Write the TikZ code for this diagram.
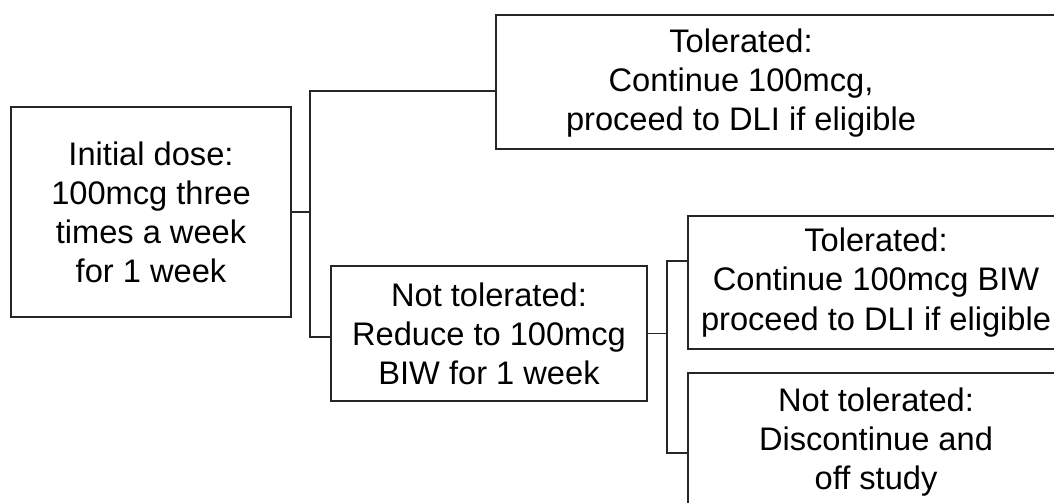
\documentclass[tikz,border=0pt]{standalone}
\usepackage{fontspec}
\setmainfont{Liberation Sans}

\tikzset{
    box/.style={draw=black!85, line width=1.2pt, fill=white, align=center, inner sep=0pt},
    boxtext/.style={align=center, inner sep=0pt, font=\fontsize{23.2}{27.8}\selectfont},
    link/.style={draw=black!85, line width=1.2pt}
}

\begin{document}
\begin{tikzpicture}[x=0.025cm, y=-0.025cm]
        %frame
            \useasboundingbox (0,0) rectangle (1054,502);
            \clip (0,0) rectangle (1054,502);
        %boxes
            \node[box, boxtext, minimum width=7cm, minimum height=5.25cm] (init) at (151,212)
                {Initial dose:\\100mcg three\\times a week\\for 1 week};
            \node[box, minimum width=14.6cm, minimum height=3.35cm] (tol) at (788,82) {};
                \node[boxtext] (toltext) at (741,83) {Tolerated:\\Continue 100mcg,\\proceed to DLI if eligible};
            \node[box, boxtext, minimum width=7.9cm, minimum height=3.375cm] (nt) at (489,333.5)
                {Not tolerated:\\Reduce to 100mcg\\BIW for 1 week};
            \node[box, boxtext, minimum width=9.4cm, minimum height=3.325cm] (tolb) at (876,282.5)
                {Tolerated:\\Continue 100mcg BIW\\proceed to DLI if eligible};
            \node[box, boxtext, minimum width=9.4cm, minimum height=3.45cm] (off) at (876,442)
                {Not tolerated:\\Discontinue and\\off study};
        % junctions
            \coordinate (jt) at (310,91);
            \coordinate (jb) at (310,337);
            \coordinate (kt) at (667,261);
            \coordinate (kb) at (667,453);
        % lines
            \draw[link] (init) -- (init -| jt);
            \draw[link] (tol.west |- jt) -- (jt) -- (jb) -- (jb -| nt.west);
            \draw[link] (nt) -- (nt -| kt);
            \draw[link] (tolb.west |- kt) -- (kt) -- (kb) -- (kb -| off.west);
    \end{tikzpicture}
\end{document}
